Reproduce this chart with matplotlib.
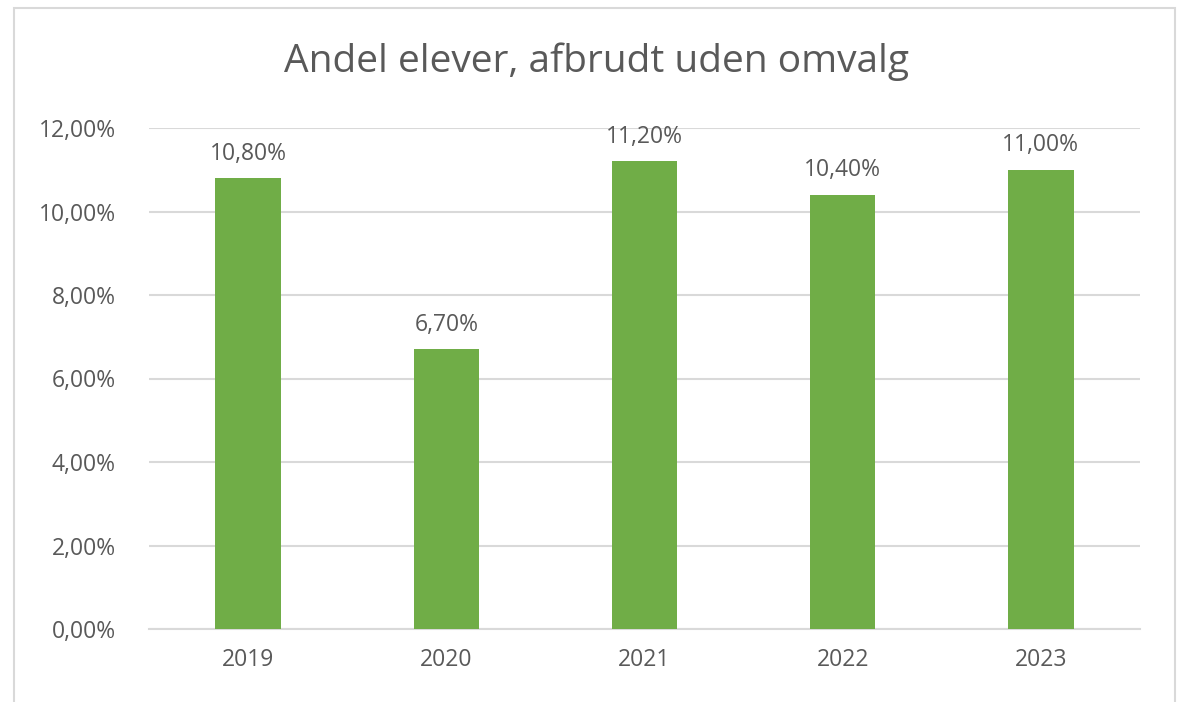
import matplotlib.pyplot as plt
from matplotlib.patches import Rectangle
from matplotlib.ticker import FuncFormatter

years = ['2019', '2020', '2021', '2022', '2023']
shares = [10.8, 6.7, 11.2, 10.4, 11.0]      # percent
y_ticks = [0, 2, 4, 6, 8, 10, 12]

plt.rcParams['font.family'] = ['Open Sans', 'DejaVu Sans']
text_col = '#595959'
grid_col = '#D9D9D9'
bar_col = '#70AD47'

fig = plt.figure(figsize=(11.78, 7.02), dpi=100)
ax = fig.add_axes([149 / 1178, 1 - 629 / 702, 991 / 1178, 501 / 702])

# outer chart frame (bottom edge is cut off in the screenshot)
fig.patches.append(Rectangle((14 / 1178, -0.05), 1161 / 1178, 1.05 - 8 / 702,
                             transform=fig.transFigure, fill=False,
                             edgecolor=grid_col, linewidth=1.5))

x = range(len(years))
bars = ax.bar(x, shares, width=0.33, color=bar_col, zorder=3)

for b, v in zip(bars, shares):
    ax.text(b.get_x() + b.get_width() / 2, v + 0.3, f'{v:.2f}%'.replace('.', ','),
            ha='center', va='bottom', fontsize=16.5, color=text_col)

ax.set_xlim(-0.5, len(years) - 0.5)
ax.set_ylim(0, 12)
ax.set_yticks(y_ticks)
ax.yaxis.set_major_formatter(FuncFormatter(lambda v, p: f'{v:.2f}%'.replace('.', ',')))
ax.set_xticks(list(x))
ax.set_xticklabels(years)
ax.tick_params(axis='both', length=0, labelsize=16.5, labelcolor=text_col)
ax.tick_params(axis='y', pad=24)
ax.tick_params(axis='x', pad=14)
ax.grid(axis='y', color=grid_col, linewidth=1.5, zorder=0)
for s in ['top', 'right', 'left']:
    ax.spines[s].set_visible(False)
ax.spines['bottom'].set_color(grid_col)
ax.spines['bottom'].set_linewidth(1.5)

fig.text(597 / 1178, 1 - 62 / 702, 'Andel elever, afbrudt uden omvalg',
         ha='center', va='center', fontsize=28, color=text_col)

fig.savefig('out.png', dpi=100)
